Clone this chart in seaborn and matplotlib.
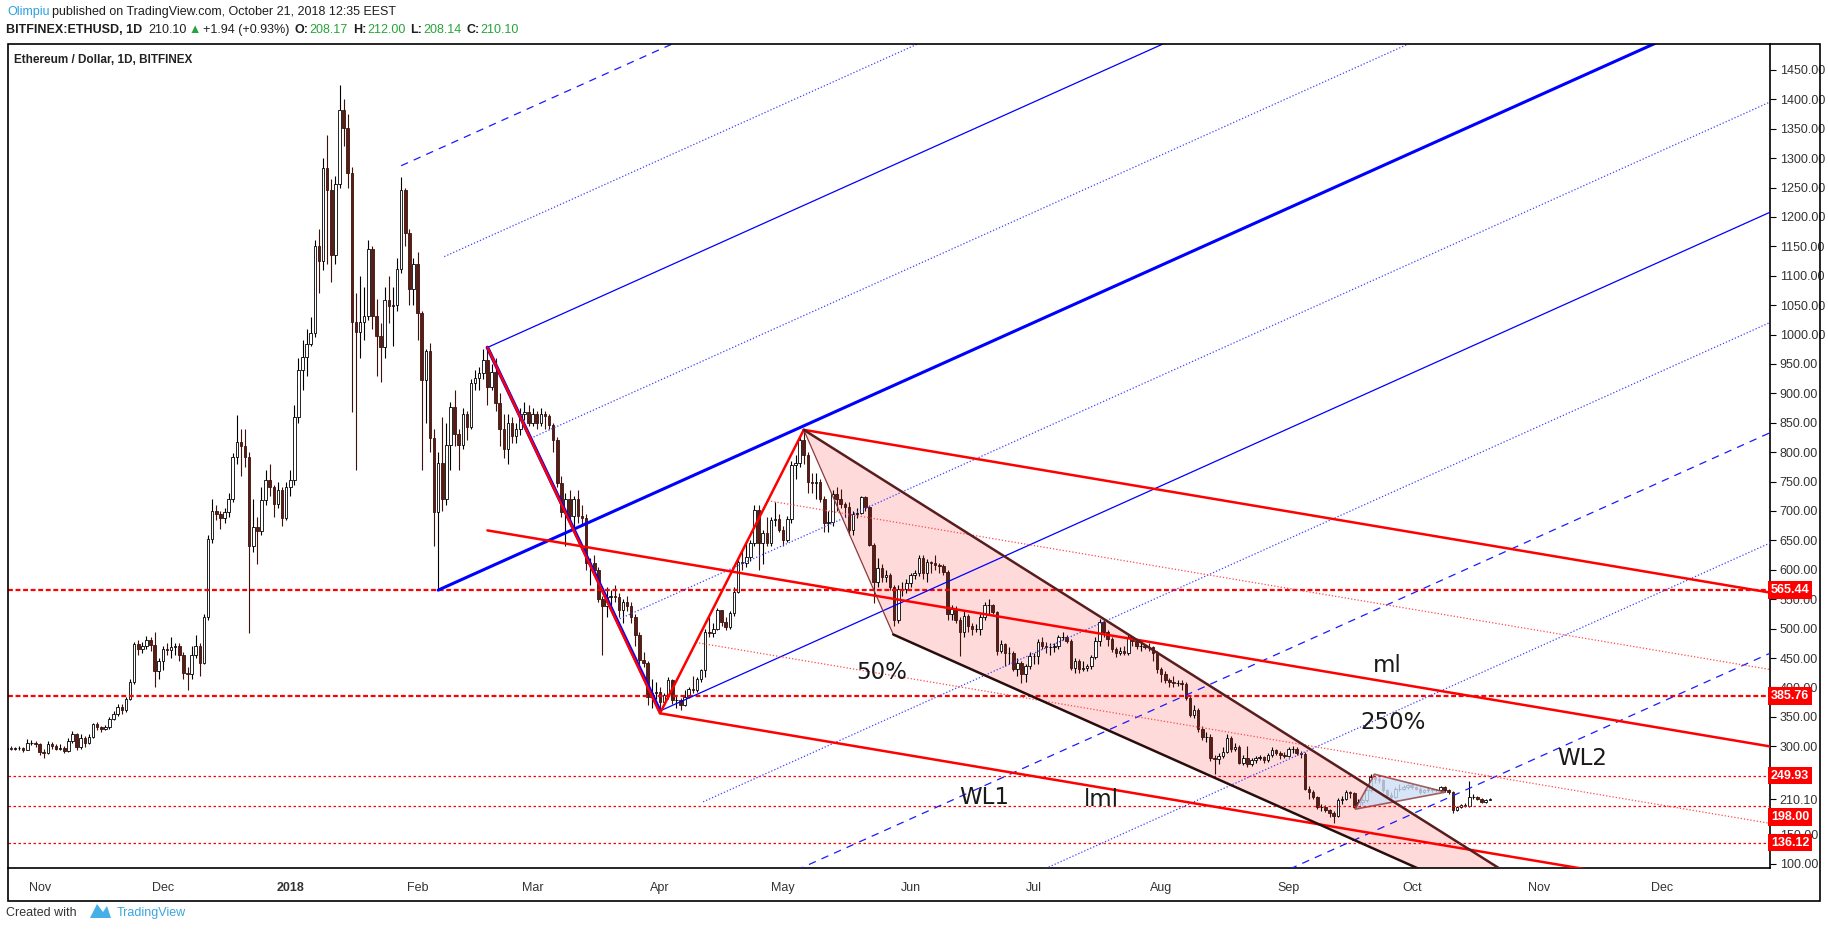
import numpy as np
import pandas as pd
import matplotlib
matplotlib.use('Agg')
import matplotlib.pyplot as plt
import matplotlib.dates as mdates
from matplotlib.patches import Polygon, Rectangle
import seaborn as sns

sns.set_theme(style='white')
plt.rcParams['font.family'] = ['Liberation Sans', 'DejaVu Sans']

W, H = 1828, 930

# ---- daily candles, BITFINEX:ETHUSD ----
dates = pd.date_range('2017-10-24', '2018-10-20', freq='D')

opens = [
    295, 297, 296, 297, 297, 294, 305, 306,
    303, 290, 288, 304, 300, 296, 297, 292, 309, 320, 298, 314, 306, 316, 337, 333, 330, 332, 347, 354, 367, 361, 381, 410, 474, 466, 470, 480, 472, 428,
    445, 466, 463, 468, 470, 455, 425, 423, 455, 470, 442, 520, 652, 700, 695, 688, 698, 720, 792, 818, 810, 792, 640, 672, 666, 718, 752, 740, 712, 736, 688,
    740, 752, 860, 940, 962, 984, 1002, 1150, 1125, 1283, 1245, 1135, 1256, 1382, 1351, 1275, 1021, 1005, 1021, 1032, 1146, 1032, 998, 979, 1059, 1048, 1050, 1112, 1245, 1173, 1078,
    1120, 1036, 922, 972, 824, 698, 782, 721, 812, 877, 831, 812, 865, 843, 918, 926, 934, 956, 911, 937, 884, 839, 805, 850, 827, 839, 865, 869,
    850, 865, 850, 865, 862, 846, 820, 748, 698, 721, 691, 721, 691, 688, 611, 612, 600, 550, 539, 554, 556, 554, 532, 545, 538, 520, 489, 446, 441, 384, 390,
    393, 376, 387, 412, 378, 378, 370, 384, 398, 396, 414, 429, 495, 492, 500, 531, 512, 503, 526, 563, 614, 611, 622, 645, 702, 645, 662, 645, 685, 687,
    668, 651, 687, 778, 781, 821, 795, 750, 747, 750, 721, 679, 682, 729, 720, 712, 706, 668, 695, 697, 723, 706, 643, 580, 603, 588, 591, 571, 514, 568, 568,
    577, 591, 594, 620, 594, 614, 611, 609, 606, 597, 525, 534, 514, 494, 522, 505, 499, 499, 520, 540, 540, 528, 462, 474, 459, 459, 431, 442, 422, 436,
    454, 454, 477, 471, 468, 468, 471, 485, 485, 479, 433, 445, 431, 433, 436, 451, 479, 511, 494, 482, 465, 459, 462, 459, 485, 479, 471, 471, 469, 468, 459,
    431, 422, 413, 410, 408, 408, 405, 382, 353, 362, 330, 316, 316, 280, 278, 283, 290, 314, 295, 299, 272, 280, 270, 276, 280, 281, 276, 285, 294, 289, 285,
    283, 295, 295, 289, 287, 228, 222, 214, 196, 197, 191, 186, 181, 208, 210, 222, 220, 197, 205, 208, 225, 248, 245, 242, 225, 217, 214, 228, 228, 231,
    234, 231, 228, 222, 225, 228, 225, 225, 231, 225, 222, 191, 197, 200, 198, 214, 214, 211, 205, 208.17,
]
highs = [
    302, 300, 299, 301, 299, 312, 310, 309,
    306, 296, 309, 307, 303, 304, 300, 314, 326, 323, 320, 318, 320, 340, 342, 335, 336, 350, 360, 372, 372, 384, 414, 478, 480, 478, 487, 485, 495, 450,
    470, 475, 485, 475, 475, 460, 435, 470, 490, 475, 525, 660, 720, 710, 700, 705, 730, 798, 864, 840, 840, 800, 720, 690, 740, 770, 780, 745, 750, 740, 750,
    770, 880, 960, 990, 1010, 1030, 1160, 1180, 1300, 1340, 1265, 1270, 1424, 1400, 1375, 1285, 1070, 1100, 1080, 1160, 1150, 1060, 1020, 1080, 1100, 1080, 1130, 1268, 1250, 1180, 1130,
    1140, 1040, 975, 985, 840, 800, 860, 850, 885, 905, 840, 875, 870, 925, 940, 945, 975, 978, 950, 960, 900, 865, 865, 860, 850, 875, 885, 880,
    875, 870, 875, 870, 865, 850, 825, 760, 730, 735, 725, 735, 710, 695, 620, 625, 605, 555, 570, 565, 575, 560, 550, 555, 545, 525, 495, 460, 445, 415, 410,
    400, 390, 418, 415, 385, 382, 395, 400, 420, 418, 432, 500, 520, 510, 535, 532, 520, 530, 570, 620, 635, 645, 650, 710, 710, 668, 690, 690, 715, 695,
    675, 692, 785, 795, 825, 838, 800, 765, 765, 755, 725, 700, 735, 740, 738, 715, 715, 700, 705, 725, 726, 710, 645, 620, 610, 600, 595, 575, 575, 580, 585,
    595, 600, 625, 625, 618, 615, 625, 612, 610, 600, 540, 538, 520, 530, 525, 510, 508, 525, 545, 550, 542, 530, 480, 476, 468, 462, 450, 445, 440, 460,
    458, 482, 485, 478, 475, 475, 490, 495, 490, 482, 450, 448, 445, 440, 455, 485, 517, 514, 498, 486, 468, 468, 470, 490, 488, 482, 476, 472, 475, 470, 462,
    435, 428, 416, 420, 412, 412, 410, 385, 370, 365, 335, 325, 320, 285, 288, 298, 320, 318, 305, 302, 285, 300, 280, 284, 285, 284, 288, 298, 296, 292, 290,
    298, 300, 298, 292, 290, 232, 225, 216, 202, 200, 194, 190, 212, 215, 225, 224, 222, 210, 212, 228, 253, 250, 248, 245, 228, 222, 230, 235, 234, 236,
    236, 233, 230, 228, 230, 229, 228, 233, 232, 227, 224, 199, 202, 203, 241, 218, 215, 212, 210, 212,
]
lows = [
    292, 293, 294, 293, 290, 293, 302, 299,
    285, 280, 286, 296, 293, 294, 289, 290, 306, 293, 296, 298, 303, 314, 328, 325, 327, 330, 344, 352, 354, 359, 378, 405, 455, 458, 465, 462, 400, 415,
    430, 455, 450, 455, 445, 415, 395, 415, 450, 420, 440, 515, 645, 685, 670, 680, 690, 715, 780, 760, 775, 492, 630, 610, 660, 710, 725, 690, 705, 675, 685,
    725, 745, 850, 905, 930, 980, 995, 1070, 1110, 1120, 1090, 1120, 1250, 1320, 1250, 869, 770, 960, 990, 1025, 1010, 930, 920, 960, 1020, 980, 1040, 1105, 1150, 1050, 1050,
    990, 770, 850, 800, 641, 565.44, 700, 710, 770, 810, 770, 805, 820, 840, 905, 905, 925, 880, 905, 870, 810, 790, 780, 815, 815, 830, 855, 845,
    845, 840, 845, 840, 840, 800, 740, 690, 641, 680, 665, 680, 675, 600, 575, 590, 545, 455, 520, 535, 545, 520, 510, 530, 510, 470, 440, 435, 370, 365, 380,
    356, 370, 380, 372, 365, 362, 368, 382, 390, 392, 410, 418, 485, 485, 498, 505, 498, 500, 522, 560, 600, 605, 615, 640, 600, 610, 640, 640, 675, 665,
    640, 648, 680, 755, 775, 780, 730, 730, 720, 715, 665, 665, 675, 700, 705, 690, 660, 660, 688, 695, 700, 640, 543, 570, 580, 580, 565, 505, 510, 555, 560,
    570, 585, 590, 585, 580, 595, 600, 595, 592, 515, 515, 510, 454, 485, 495, 490, 495, 490, 515, 525, 525, 455, 458, 436, 440, 428, 420, 408, 410, 432,
    440, 440, 465, 458, 455, 460, 465, 480, 475, 430, 425, 425, 428, 428, 432, 448, 470, 485, 470, 460, 452, 455, 455, 455, 470, 465, 462, 465, 462, 445, 425,
    410, 408, 400, 400, 402, 395, 378, 350, 348, 325, 310, 308, 275, 252, 270, 280, 288, 290, 292, 270, 268, 265, 266, 272, 276, 272, 274, 282, 285, 278, 280,
    281, 288, 285, 280, 225, 210, 210, 193, 190, 188, 180, 169, 180, 202, 208, 212, 195, 195, 200, 206, 223, 238, 238, 222, 212, 210, 212, 224, 225, 228,
    228, 225, 219, 220, 223, 222, 222, 223, 223, 218, 187, 190, 195, 196, 197, 210, 208, 203, 203, 208.14,
]
closes = [
    297, 296, 297, 297, 294, 305, 306, 303,
    290, 288, 304, 300, 296, 297, 292, 309, 320, 298, 314, 306, 316, 337, 333, 330, 332, 347, 354, 367, 361, 381, 410, 474, 466, 470, 480, 472, 428, 445,
    466, 463, 468, 470, 455, 425, 423, 455, 470, 442, 520, 652, 700, 695, 688, 698, 720, 792, 818, 810, 792, 640, 672, 666, 718, 752, 740, 712, 736, 688, 740,
    752, 860, 940, 962, 984, 1002, 1150, 1125, 1283, 1245, 1135, 1256, 1382, 1351, 1275, 1021, 1005, 1021, 1032, 1146, 1032, 998, 979, 1059, 1048, 1050, 1112, 1245, 1173, 1078, 1120,
    1036, 922, 972, 824, 698, 782, 721, 812, 877, 831, 812, 865, 843, 918, 926, 934, 956, 911, 937, 884, 839, 805, 850, 827, 839, 865, 869, 850,
    865, 850, 865, 862, 846, 820, 748, 698, 721, 691, 721, 691, 688, 611, 612, 600, 550, 539, 554, 556, 554, 532, 545, 538, 520, 489, 446, 441, 384, 390, 393,
    376, 387, 412, 378, 378, 370, 384, 398, 396, 414, 429, 495, 492, 500, 531, 512, 503, 526, 563, 614, 611, 622, 645, 702, 645, 662, 645, 685, 687, 668,
    651, 687, 778, 781, 821, 795, 750, 747, 750, 721, 679, 682, 729, 720, 712, 706, 668, 695, 697, 723, 706, 643, 580, 603, 588, 591, 571, 514, 568, 568, 577,
    591, 594, 620, 594, 614, 611, 609, 606, 597, 525, 534, 514, 494, 522, 505, 499, 499, 520, 540, 540, 528, 462, 474, 459, 459, 431, 442, 422, 436, 454,
    454, 477, 471, 468, 468, 471, 485, 485, 479, 433, 445, 431, 433, 436, 451, 479, 511, 494, 482, 465, 459, 462, 459, 485, 479, 471, 471, 469, 468, 459, 431,
    422, 413, 410, 408, 408, 405, 382, 353, 362, 330, 316, 316, 280, 278, 283, 290, 314, 295, 299, 272, 280, 270, 276, 280, 281, 276, 285, 294, 289, 285, 283,
    295, 295, 289, 287, 228, 222, 214, 196, 197, 191, 186, 181, 208, 210, 222, 220, 197, 205, 208, 225, 248, 245, 242, 225, 217, 214, 228, 228, 231, 234,
    231, 228, 222, 225, 228, 225, 225, 231, 225, 222, 191, 197, 200, 198, 214, 214, 211, 205, 208.17, 210.10,
]

# ---- drawings: pivots (date, price) ----
blue_fork_dates = ['2018-02-06', '2018-02-18', '2018-04-01']
blue_fork_prices = [565.44, 978.0, 360.0]
blue_levels = [2, 1.5, 1, 0.5, 0, -0.5, -1, -1.5, -2, -2.5, -3]

red_fork_dates = ['2018-02-18', '2018-05-06', '2018-04-01']
red_fork_prices = [978.0, 838.0, 356.0]
red_levels = [1, 0.5, 0, -0.5, -1]

channel_top_dates = ['2018-05-06', '2018-10-21 17:00']
channel_top_prices = [838.0, 95.0]
channel_bot_dates = ['2018-05-27 19:00', '2018-09-29 17:00']
channel_bot_prices = [490.0, 101.0]

tri_dates = ['2018-09-17 05:00', '2018-09-21 22:00', '2018-10-09 05:00']
tri_prices = [193.0, 252.5, 222.0]

h_levels = [565.44, 385.76, 249.93, 198.00, 136.12]
h_heavy = [True, True, False, False, False]

note_texts = ['50%', 'ml', '250%', 'WL2', 'WL1', 'lml']
note_dates = ['2018-05-25', '2018-09-25', '2018-09-26 10:00', '2018-11-11 10:00',
              '2018-06-19', '2018-07-17 12:00']
note_prices = [425, 437, 340, 280, 213, 209]

month_ticks = ['2017-11-01', '2017-12-01', '2018-01-01', '2018-02-01', '2018-03-01',
               '2018-04-01', '2018-05-01', '2018-06-01', '2018-07-01', '2018-08-01',
               '2018-09-01', '2018-10-01', '2018-11-01', '2018-12-01']
month_labels = ['Nov', 'Dec', '2018', 'Feb', 'Mar', 'Apr', 'May', 'Jun', 'Jul', 'Aug',
                'Sep', 'Oct', 'Nov', 'Dec']

last_price = 210.10


def dn(d):
    return mdates.date2num(pd.Timestamp(d))


fig = plt.figure(figsize=(W / 100, H / 100), dpi=100)
fig.patch.set_facecolor('white')
ax = fig.add_axes([8 / W, 1 - 868 / H, (1770 - 8) / W, (868 - 44) / H])
ax.set_facecolor('white')

jan1 = dn('2018-01-01')
XMIN, XMAX = jan1 - 68.7, jan1 + 360.2
ax.set_xlim(XMIN, XMAX)
ax.set_ylim(93, 1494)

# candles
xs = mdates.date2num(dates)
o, hi, lo, c = map(np.asarray, (opens, highs, lows, closes))
up = c >= o
ax.vlines(xs[up], lo[up], hi[up], color='#000000', lw=0.8, zorder=3)
ax.vlines(xs[~up], lo[~up], hi[~up], color='#3d120d', lw=0.8, zorder=3)
ax.bar(xs[up], (c - o)[up], bottom=o[up], width=0.62, color='white',
       edgecolor='black', linewidth=0.6, zorder=3.5)
ax.bar(xs[~up], (o - c)[~up], bottom=c[~up], width=0.62, color='#5a1d16',
       edgecolor='#3d120d', linewidth=0.6, zorder=3.5)


def fork(dates_, prices_, levels, schiff=False):
    xa, xb, xc = [dn(d) for d in dates_]
    ya, yb, yc = prices_
    if schiff:
        ya = (ya + yc) / 2
    mx, my = (xb + xc) / 2, (yb + yc) / 2
    s = (my - ya) / (mx - xa)
    d = yb - (ya + s * (xb - xa))
    t = (yc - yb) / (xc - xb)
    out = {}
    for k in levels:
        x0 = xa if k == 0 else (yb - t * xb - ya + s * xa - k * d) / (s - t)
        y0 = ya + s * (x0 - xa) + k * d
        y1 = ya + s * (XMAX - xa) + k * d
        out[k] = ([x0, XMAX], [y0, y1])
    return out


# blue Andrews pitchfork
for k, (lx, ly) in fork(blue_fork_dates, blue_fork_prices, blue_levels).items():
    if k == 0:
        kw = dict(lw=2.2, ls='-', color='#0000ff')
    elif abs(k) == 1:
        kw = dict(lw=0.9, ls='-', color='#0000ff')
    elif k in (2, -2, -3):
        kw = dict(lw=0.9, ls=(0, (6, 5)), color='#1a1aff')
    else:
        kw = dict(lw=0.9, ls=(0, (1, 1.6)), color='#4040ff')
    ax.plot(lx, ly, zorder=5, **kw)
sns.lineplot(x=[dn(d) for d in blue_fork_dates[1:]], y=blue_fork_prices[1:],
             sort=False, color='#0000ff', lw=2.6, ax=ax, zorder=5)

# red Schiff pitchfork
for k, (lx, ly) in fork(red_fork_dates, red_fork_prices, red_levels, schiff=True).items():
    if k in (0, 1, -1):
        ax.plot(lx, ly, color='#ff0000', lw=1.8, zorder=6)
    else:
        ax.plot(lx, ly, color='#ff4a4a', lw=0.9, ls=(0, (1, 1.6)), zorder=6)
handle = [red_fork_dates[0], red_fork_dates[2], red_fork_dates[1]]
handle_p = [red_fork_prices[0], red_fork_prices[2], red_fork_prices[1]]
sns.lineplot(x=[dn(d) for d in handle], y=handle_p, sort=False,
             color='#ff0000', lw=1.8, ax=ax, zorder=6)


# descending channel with pink fill
def extend(dts, prs, target):
    x0, x1 = dn(dts[0]), dn(dts[1])
    slope = (prs[1] - prs[0]) / (x1 - x0)
    return x0, prs[0], x0 + (target - prs[0]) / slope, target


tx0, ty0, tx1, ty1 = extend(channel_top_dates, channel_top_prices, 20)
bx0, by0, bx1, by1 = extend(channel_bot_dates, channel_bot_prices, 20)
ax.add_patch(Polygon([(tx0, ty0), (tx1, ty1), (bx1, by1), (bx0, by0)], closed=True,
                     facecolor='#ffd6d6', edgecolor='none', alpha=0.9, zorder=2))
ax.plot([tx0, bx0], [ty0, by0], color='#8b3a3a', lw=0.9, zorder=6)
ax.plot([tx0, tx1], [ty0, ty1], color='#5a1d1d', lw=1.8, zorder=6)
ax.plot([bx0, bx1], [by0, by1], color='#2a0d0d', lw=1.8, zorder=6)

# small triangle
ax.add_patch(Polygon([(dn(d), p) for d, p in zip(tri_dates, tri_prices)], closed=True,
                     facecolor='#cddff7', edgecolor='#8b3a3a', lw=1.2, alpha=0.8, zorder=4))

# horizontal levels
for lvl, heavy in zip(h_levels, h_heavy):
    if heavy:
        ax.axhline(lvl, color='#ff0000', lw=1.6, ls=(0, (2.2, 1.2)), zorder=4)
    else:
        ax.axhline(lvl, color='#ff0000', lw=0.9, ls=(0, (2, 2)), zorder=4)

for txt, d, p in zip(note_texts, note_dates, note_prices):
    ax.text(dn(d), p, txt, fontsize=16.5, color='#1a1a1a', ha='center', va='center',
            family='DejaVu Sans', zorder=8)

# axes cosmetics
yt = [v for v in range(100, 1451, 50) if v not in (200, 250)] + [last_price]
ax.set_yticks(yt)
ax.set_yticklabels([f'{v:.2f}' for v in yt])
ax.yaxis.tick_right()
ax.tick_params(axis='y', direction='out', length=4, width=0.8, pad=3,
               labelsize=9, labelcolor='#333333', color='black')
ax.set_xticks([dn(d) for d in month_ticks])
ax.set_xticklabels(month_labels)
ax.tick_params(axis='x', direction='out', length=4, width=0.8, pad=6,
               labelsize=9, labelcolor='#333333', color='black')
ax.get_xticklabels()[2].set_fontweight('bold')
ax.grid(False)
for side in ('top', 'left'):
    ax.spines[side].set_visible(False)
for side in ('right', 'bottom'):
    ax.spines[side].set_color('black')
    ax.spines[side].set_linewidth(1.2)

# price tags on the right axis
trans = ax.get_yaxis_transform()
for lvl in h_levels:
    ypos = lvl if abs(lvl - last_price) > 20 else last_price - 30
    ax.text(1.0005, ypos, f'{lvl:.2f}', transform=trans, ha='left', va='center',
            fontsize=9, fontweight='bold', color='white', zorder=9, clip_on=False,
            bbox=dict(boxstyle='square,pad=0.22', fc='#ff0000', ec='none'))

# hide labels running below the plot bottom, outer frame
fig.patches.append(Rectangle((1771 / W, 1 - 900 / H), 48 / W, 32 / H, transform=fig.transFigure,
                             facecolor='white', edgecolor='none', zorder=10))
fig.patches.append(Rectangle((8 / W, 1 - 901 / H), (1820 - 8) / W, (901 - 44) / H,
                             transform=fig.transFigure, fill=False, edgecolor='black',
                             lw=1.2, zorder=11))

fig.text(14 / W, 1 - 60 / H, 'Ethereum / Dollar, 1D, BITFINEX', fontsize=8.5,
         fontweight='bold', color='#222222', va='center')

renderer = fig.canvas.get_renderer()


def text_row(pieces, x0, y, size):
    x = x0
    for s, color, weight, gap in pieces:
        t = fig.text(x / W, 1 - y / H, s, color=color, fontweight=weight,
                     fontsize=size, va='center', ha='left')
        x = t.get_window_extent(renderer).x1 + gap


dark, green, blue = '#1e1e1e', '#27a33a', '#2ba0e0'
text_row([('Olimpiu', blue, 'normal', 3),
          ('published on TradingView.com, October 21, 2018 12:35 EEST', dark, 'normal', 0)],
         7, 12, 9)
text_row([('BITFINEX:ETHUSD, 1D', dark, 'bold', 6), ('210.10', dark, 'normal', 2),
          ('\u25b2', green, 'normal', 2), ('+1.94 (+0.93%)', dark, 'normal', 5),
          ('O:', dark, 'bold', 1), ('208.17', green, 'normal', 5),
          ('H:', dark, 'bold', 1), ('212.00', green, 'normal', 5),
          ('L:', dark, 'bold', 1), ('208.14', green, 'normal', 5),
          ('C:', dark, 'bold', 1), ('210.10', green, 'normal', 0)],
         6, 30, 9)

fig.text(6 / W, 1 - 913 / H, 'Created with', fontsize=9, color='#333333', va='center')
fig.patches.append(Polygon([(90 / W, 1 - 918 / H), (97 / W, 1 - 904 / H), (103 / W, 1 - 912 / H),
                            (107 / W, 1 - 906 / H), (111 / W, 1 - 918 / H)],
                           closed=True, transform=fig.transFigure, facecolor='#45b0e8',
                           edgecolor='none', zorder=5))
fig.text(117 / W, 1 - 913 / H, 'TradingView', fontsize=9, color='#3aa6e0', va='center')

fig.savefig('out.png', dpi=100, facecolor='white')
